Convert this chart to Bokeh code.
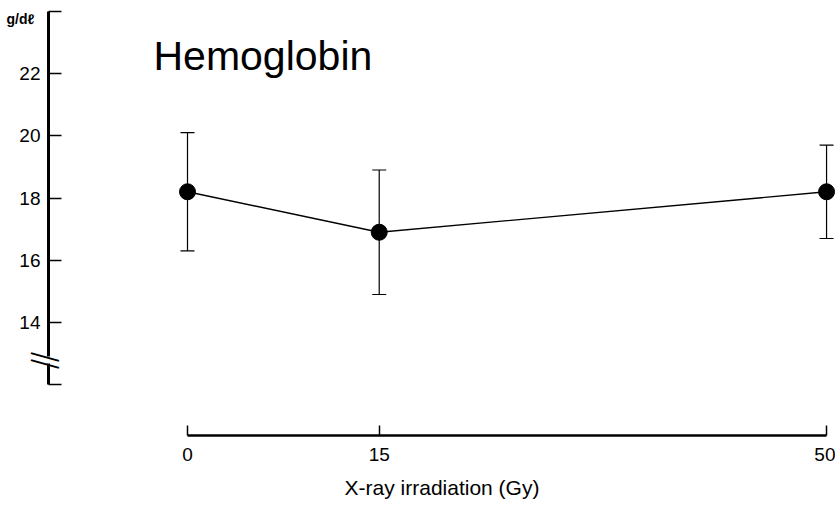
from bokeh.plotting import figure
from bokeh.models import (ColumnDataSource, Whisker, TeeHead, FixedTicker, Label, Range1d,
                          LinearAxis)
from bokeh.embed import file_html
from bokeh.resources import INLINE

# ---- data ----
doses = [0, 15, 50]                 # X-ray irradiation (Gy)
hb_mean = [18.2, 16.9, 18.2]        # Hemoglobin, g/dl
hb_sd = [1.9, 2.0, 1.5]
x_ticks = [0, 15, 50]
y_ticks = [12, 14, 16, 18, 20, 22, 24]
y_tick_labels = {12: "", 14: "14", 16: "16", 18: "18", 20: "20", 22: "22", 24: ""}
break_ticks = [12.62, 12.85]        # where the axis-break strokes sit
title_text = "Hemoglobin"
x_label = "X-ray irradiation (Gy)"
y_unit = "g/d\u2113"

FONT = "Liberation Sans"

p = figure(width=835, height=508, output_backend="svg", toolbar_location=None,
           x_range=Range1d(-10.876, 50.70), y_range=Range1d(10.37, 24.185),
           min_border_left=48, min_border_right=0, min_border_top=5, min_border_bottom=73)
p.grid.visible = False
p.outline_line_color = None
p.background_fill_color = "white"
p.border_fill_color = "white"

# y axis (with a gap in the rule for the axis break)
ya = p.yaxis[0]
ya.bounds = (12, 24)
ya.ticker = FixedTicker(ticks=y_ticks)
ya.major_label_overrides = y_tick_labels
ya.minor_tick_line_color = None
ya.major_tick_in = 13
ya.major_tick_out = 0
ya.major_tick_line_width = 1.5
ya.axis_line_width = 3
ya.axis_line_dash = "21 7 400"
ya.major_label_standoff = 8
ya.major_label_text_font = FONT
ya.major_label_text_font_size = "19px"
ya.major_label_text_color = "black"
ya.axis_label = "\n" + y_unit
ya.axis_label_orientation = "horizontal"
ya.axis_label_align = "end"
ya.axis_label_standoff = -18
ya.axis_label_text_font = FONT
ya.axis_label_text_font_size = "14px"
ya.axis_label_text_font_style = "bold"
ya.axis_label_text_line_height = 1.7
ya.axis_label_text_color = "black"

# second (invisible) left axis that only carries the two slanted break strokes
brk = LinearAxis(ticker=FixedTicker(ticks=break_ticks),
                 major_label_overrides={t: "\u2014" for t in break_ticks},
                 major_label_orientation=-0.27,
                 major_label_standoff=-56,
                 major_label_text_font=FONT, major_label_text_font_size="29px",
                 major_label_text_color="black",
                 axis_line_color=None, major_tick_line_color=None,
                 minor_tick_line_color=None, major_tick_in=0, major_tick_out=0)
p.add_layout(brk, "left")

# x axis
xa = p.xaxis[0]
xa.bounds = (0, 50)
xa.ticker = FixedTicker(ticks=x_ticks)
xa.minor_tick_line_color = None
xa.major_tick_in = 10
xa.major_tick_out = 0
xa.major_tick_line_width = 1.5
xa.axis_line_width = 2.5
xa.major_label_standoff = 12
xa.major_label_text_font = FONT
xa.major_label_text_font_size = "19px"
xa.major_label_text_color = "black"
xa.axis_label = x_label
xa.axis_label_text_font = FONT
xa.axis_label_text_font_size = "21px"
xa.axis_label_text_font_style = "normal"
xa.axis_label_standoff = 12
xa.axis_label_text_color = "black"

src = ColumnDataSource(dict(
    x=doses, y=hb_mean,
    upper=[m + s for m, s in zip(hb_mean, hb_sd)],
    lower=[m - s for m, s in zip(hb_mean, hb_sd)],
))

p.add_layout(Whisker(base="x", upper="upper", lower="lower", source=src,
                     line_color="black", line_width=1.2,
                     upper_head=TeeHead(size=14, line_width=1.2, line_color="black"),
                     lower_head=TeeHead(size=14, line_width=1.2, line_color="black")))
p.line("x", "y", source=src, line_color="black", line_width=1.4)
p.scatter("x", "y", source=src, size=16, fill_color="black", line_color="black")

p.add_layout(Label(x=105, y=380, x_units="screen", y_units="screen", text=title_text,
                   text_font=FONT, text_font_size="41px",
                   text_color="black", text_baseline="alphabetic"))

open("out.html", "w").write(file_html(p, INLINE))
